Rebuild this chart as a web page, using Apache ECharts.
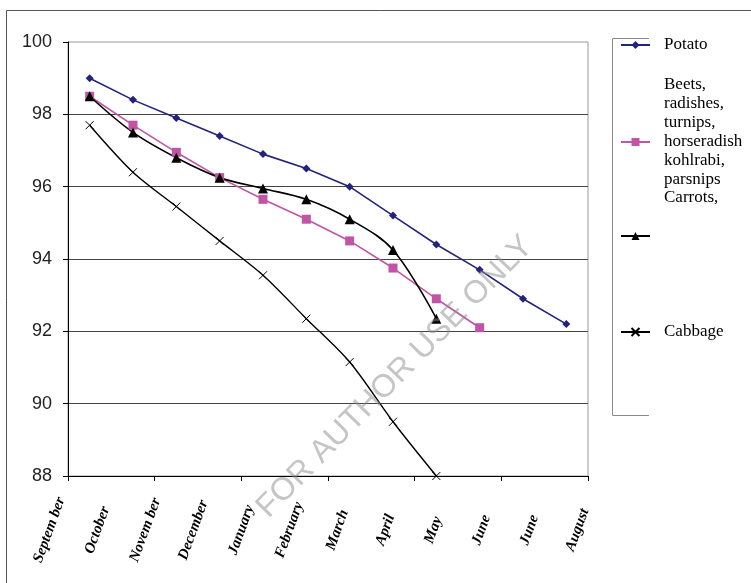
<!DOCTYPE html>
<html>
<head>
<meta charset="utf-8">
<script src="https://cdn.jsdelivr.net/npm/echarts@6/dist/echarts.min.js"></script>
<style>
  html, body { margin: 0; padding: 0; background: #fff; }
  #chart { width: 751px; height: 583px; }
</style>
</head>
<body>
<div id="chart"></div>
<script>
// Month categories along the storage period
const months = ['Septem ber', 'October', 'Novem ber', 'December', 'January', 'February',
                'March', 'April', 'May', 'June', 'June', 'August'];

// Share of mass retained (%) per month for each crop
const potato  = [99.0, 98.4, 97.9, 97.4, 96.9, 96.5, 96.0, 95.2, 94.4, 93.7, 92.9, 92.2];
const beets   = [98.5, 97.7, 96.95, 96.25, 95.65, 95.1, 94.5, 93.75, 92.9, 92.1];
const carrots = [98.5, 97.5, 96.8, 96.25, 95.95, 95.65, 95.1, 94.25, 92.35];
const cabbage = [97.7, 96.4, 95.45, 94.5, 93.55, 92.35, 91.15, 89.5, 88.0];

// Series names as shown in the legend
const names = ['Potato',
               'Beets,\nradishes,\nturnips,\nhorseradish\nkohlrabi,\nparsnips',
               'Carrots,',
               'Cabbage'];

// Value axis range
const yMin = 88, yMax = 100, yStep = 2;

const crossPath = 'path://M0,0L10,10M10,0L0,10';
const serif = 'Liberation Serif';
const legendText = { fontFamily: serif, fontSize: 17, lineHeight: 19, color: '#000', padding: [0, 0, 0, 9] };

const chart = echarts.init(document.getElementById('chart'), null, { renderer: 'canvas' });

// One legend block per series; trailing blank lines lift the text above its key
function legendFor(name, top, blankLines) {
  return {
    data: [name],
    left: 620, top: top, padding: 0,
    itemWidth: 29, itemHeight: 10, itemGap: 0,
    selectedMode: false,
    formatter: n => n + '\n'.repeat(blankLines),
    textStyle: legendText
  };
}

chart.setOption({
  animation: false,
  backgroundColor: '#fff',
  grid: [
    { left: 68, top: 42, width: 520, height: 434, show: true, borderColor: '#9a9a9a', borderWidth: 1 },
    { left: 25.4, top: 42, width: 576, height: 434 }
  ],
  xAxis: [
    {
      gridIndex: 0, type: 'category', data: months, boundaryGap: true,
      axisLine: { lineStyle: { color: '#000', width: 1 } },
      axisTick: { show: true, length: 5, lineStyle: { color: '#000' } },
      axisLabel: { show: false },
      splitLine: { show: false }
    },
    {
      gridIndex: 1, type: 'category', data: months,
      axisLine: { show: false }, axisTick: { show: false }, splitLine: { show: false },
      axisLabel: {
        interval: 0, rotate: 70, align: 'center', verticalAlign: 'middle', margin: 54,
        fontFamily: serif, fontStyle: 'italic', fontWeight: 'bold', fontSize: 15, color: '#000'
      }
    }
  ],
  yAxis: [
    {
      gridIndex: 0, type: 'value', min: yMin, max: yMax, interval: yStep,
      axisLine: { show: true, lineStyle: { color: '#000', width: 1 } },
      axisTick: { show: true, length: 5, lineStyle: { color: '#000' } },
      axisLabel: { fontFamily: 'Liberation Sans', fontSize: 18, color: '#222', margin: 16 },
      splitLine: { show: true, showMinLine: false, showMaxLine: false, lineStyle: { color: '#444', width: 1 } }
    },
    { gridIndex: 1, type: 'value', show: false, min: yMin, max: yMax }
  ],
  legend: [
    legendFor(names[0], 35.5, 0),
    legendFor(names[1], 75.5, 1),
    legendFor(names[2], 188.5, 4),
    legendFor(names[3], 322.5, 0)
  ],
  series: [
    {
      name: names[0], type: 'line', data: potato,
      symbol: 'diamond', symbolSize: 8,
      itemStyle: { color: '#23237e' }, lineStyle: { color: '#23237e', width: 1.6 }
    },
    {
      name: names[1], type: 'line', data: beets,
      symbol: 'rect', symbolSize: 9,
      itemStyle: { color: '#c055a5' }, lineStyle: { color: '#c055a5', width: 1.6 }
    },
    {
      name: names[2], type: 'line', data: carrots, smooth: 0.35,
      symbol: 'triangle', symbolSize: 10,
      itemStyle: { color: '#000' }, lineStyle: { color: '#000', width: 1.6 }
    },
    {
      name: names[3], type: 'line', data: cabbage, smooth: 0.3,
      symbol: crossPath, symbolSize: 8,
      itemStyle: { color: 'transparent', borderColor: '#000', borderWidth: 1 },
      lineStyle: { color: '#000', width: 1.4 }
    }
  ],
  graphic: [
    {
      type: 'rect', silent: true, z: -10,
      shape: { x: 6.5, y: 10.5, width: 800, height: 620 },
      style: { fill: 'none', stroke: '#555', lineWidth: 1 }
    },
    {
      type: 'polyline', silent: true,
      shape: { points: [[649, 38.5], [612.5, 38.5], [612.5, 415.5], [649, 415.5]] },
      style: { fill: 'none', stroke: '#8a8a8a', lineWidth: 1 }
    },
    {
      type: 'text', silent: true, z: 100,
      x: 395, y: 377, rotation: 45.6 * Math.PI / 180,
      style: {
        text: 'FOR AUTHOR USE ONLY', fontFamily: 'Liberation Sans', fontSize: 32,
        fill: 'rgba(140,140,140,0.5)', align: 'center', verticalAlign: 'middle'
      }
    }
  ]
});
</script>
</body>
</html>
